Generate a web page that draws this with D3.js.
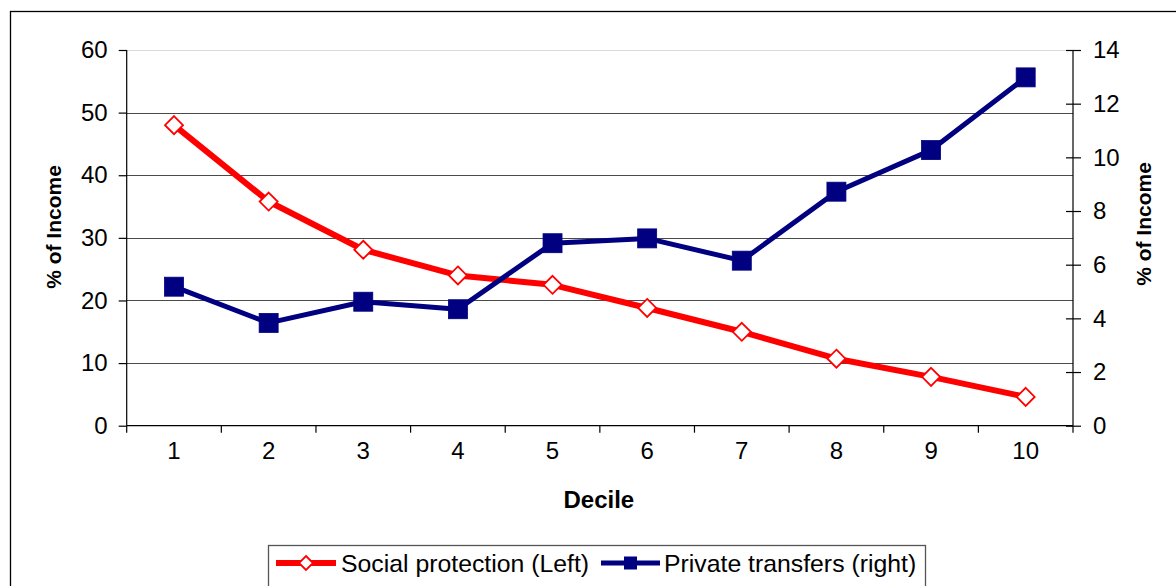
<!DOCTYPE html>
<html>
<head>
<meta charset="utf-8">
<script src="https://cdn.jsdelivr.net/npm/d3@7/dist/d3.min.js"></script>
<style>
  html, body { margin: 0; padding: 0; background: #fff; }
  svg { display: block; font-family: "Liberation Sans", Arial, sans-serif; }
</style>
</head>
<body>
<svg id="chart" width="1176" height="586"></svg>
<script>
// Income deciles and shares of income by source
const deciles = [1, 2, 3, 4, 5, 6, 7, 8, 9, 10];
const socialProtection = [48.0, 35.8, 28.1, 24.0, 22.5, 18.8, 15.0, 10.7, 7.8, 4.6];
const privateTransfers = [5.18, 3.83, 4.62, 4.34, 6.80, 6.98, 6.15, 8.72, 10.27, 12.98];
const leftTicks = [0, 10, 20, 30, 40, 50, 60];
const rightTicks = [0, 2, 4, 6, 8, 10, 12, 14];
const seriesNames = ["Social protection (Left)", "Private transfers (right)"];
const axisTitle = "% of Income";
const xTitle = "Decile";

const svg = d3.select("#chart");
const plot = { left: 126.7, right: 1073, top: 50, bottom: 425.7 };

const x = d3.scaleBand().domain(deciles).range([plot.left, plot.right]);
const yL = d3.scaleLinear().domain([0, 60]).range([plot.bottom, plot.top]);
const yR = d3.scaleLinear().domain([0, 14]).range([plot.bottom, plot.top]);
const cx = d => x(d) + x.bandwidth() / 2;

// outer frame
svg.append("rect")
  .attr("x", 10.5).attr("y", 11.5).attr("width", 1180).attr("height", 600)
  .attr("fill", "#fff").attr("stroke", "#000").attr("stroke-width", 1.3);

// horizontal gridlines on the left scale
svg.append("g").selectAll("line").data(leftTicks.filter(t => t > 0)).join("line")
  .attr("x1", plot.left).attr("x2", plot.right)
  .attr("y1", d => Math.round(yL(d)) + 0.5).attr("y2", d => Math.round(yL(d)) + 0.5)
  .attr("stroke", d => d === 60 ? "#d9d9d9" : "#4a4a4a").attr("stroke-width", 1.2);

// left axis
const gL = svg.append("g").attr("transform", `translate(${plot.left},0)`)
  .call(d3.axisLeft(yL).tickValues(leftTicks).tickSize(8).tickPadding(11));
// right axis (cross ticks)
const gR = svg.append("g").attr("transform", `translate(${plot.right},0)`)
  .call(d3.axisRight(yR).tickValues(rightTicks).tickSize(8).tickPadding(12));
gR.selectAll(".tick line").attr("x1", -7);
// bottom axis: ticks at category boundaries, labels centred
const gB = svg.append("g").attr("transform", `translate(0,${plot.bottom})`)
  .call(d3.axisBottom(x).tickSize(0).tickPadding(26));
gB.selectAll(".tick text").attr("dy", "0.32em");
const bounds = deciles.map(d => x(d)).concat([x.range()[1]]);
gB.selectAll("line.bound").data(bounds).join("line").attr("class", "bound")
  .attr("x1", d => d).attr("x2", d => d).attr("y1", 0).attr("y2", 7)
  .attr("stroke", "#000").attr("stroke-width", 1.2);

[gL, gR, gB].forEach(g => {
  g.select(".domain").attr("stroke", "#000").attr("stroke-width", 1.2);
  g.selectAll(".tick line").attr("stroke", "#000").attr("stroke-width", 1.2);
  g.selectAll(".tick text").attr("fill", "#000").style("font-size", "24px")
    .style("font-family", '"Liberation Sans", Arial, sans-serif');
});
gL.select(".domain").attr("d", `M0,${plot.bottom}V${plot.top}`);
gR.select(".domain").attr("d", `M0,${plot.bottom}V${plot.top}`);
gB.select(".domain").attr("d", `M${plot.left},0H${plot.right}`);

// axis titles
svg.append("text").attr("transform", "translate(61,227) rotate(-90)")
  .attr("text-anchor", "middle").attr("font-weight", "bold").attr("font-size", "21px")
  .text(axisTitle);
svg.append("text").attr("transform", "translate(1151,224) rotate(-90)")
  .attr("text-anchor", "middle").attr("font-weight", "bold").attr("font-size", "21px")
  .text(axisTitle);
svg.append("text").attr("x", (plot.left + plot.right) / 2 - 1).attr("y", 508)
  .attr("text-anchor", "middle").attr("font-weight", "bold").attr("font-size", "24px")
  .text(xTitle);

// series lines
const lineL = d3.line().x((d, i) => cx(deciles[i])).y(d => yL(d));
const lineR = d3.line().x((d, i) => cx(deciles[i])).y(d => yR(d));
svg.append("path").datum(socialProtection).attr("d", lineL)
  .attr("fill", "none").attr("stroke", "#ff0000").attr("stroke-width", 6).attr("stroke-linejoin", "round");
svg.append("path").datum(privateTransfers).attr("d", lineR)
  .attr("fill", "none").attr("stroke", "#000080").attr("stroke-width", 5).attr("stroke-linejoin", "round");

// markers
const diamond = r => `M0,${-r}L${r},0L0,${r}L${-r},0Z`;
svg.append("g").selectAll("path").data(socialProtection).join("path")
  .attr("transform", (d, i) => `translate(${cx(deciles[i])},${yL(d)})`)
  .attr("d", diamond(9))
  .attr("fill", "#fff").attr("stroke", "#ff0000").attr("stroke-width", 1.8);
svg.append("g").selectAll("rect").data(privateTransfers).join("rect")
  .attr("x", (d, i) => cx(deciles[i]) - 9.5).attr("y", d => yR(d) - 9.5)
  .attr("width", 19).attr("height", 19)
  .attr("fill", "#000080").attr("stroke", "#000080").attr("stroke-width", 0.8);

// legend
const lg = svg.append("g");
lg.append("rect").attr("x", 268.5).attr("y", 545.5).attr("width", 657).attr("height", 60)
  .attr("fill", "#fff").attr("stroke", "#555").attr("stroke-width", 1.3);
const legendY = 563;
const items = [
  { name: seriesNames[0], color: "#ff0000", x0: 276, x1: 336, tx: 341, mark: "diamond" },
  { name: seriesNames[1], color: "#000080", x0: 601, x1: 660, tx: 664, mark: "square" }
];
items.forEach(it => {
  lg.append("line").attr("x1", it.x0).attr("x2", it.x1).attr("y1", legendY).attr("y2", legendY)
    .attr("stroke", it.color).attr("stroke-width", it.mark === "diamond" ? 6 : 5);
  const mx = (it.x0 + it.x1) / 2;
  if (it.mark === "diamond") {
    lg.append("path").attr("transform", `translate(${mx},${legendY})`).attr("d", diamond(7))
      .attr("fill", "#fff").attr("stroke", it.color).attr("stroke-width", 1.8);
  } else {
    lg.append("rect").attr("x", mx - 6.5).attr("y", legendY - 6.5).attr("width", 13).attr("height", 13)
      .attr("fill", it.color);
  }
  lg.append("text").attr("x", it.tx).attr("y", legendY).attr("dy", "0.35em")
    .attr("font-size", "24.8px").attr("fill", "#000").text(it.name);
});
</script>
</body>
</html>
